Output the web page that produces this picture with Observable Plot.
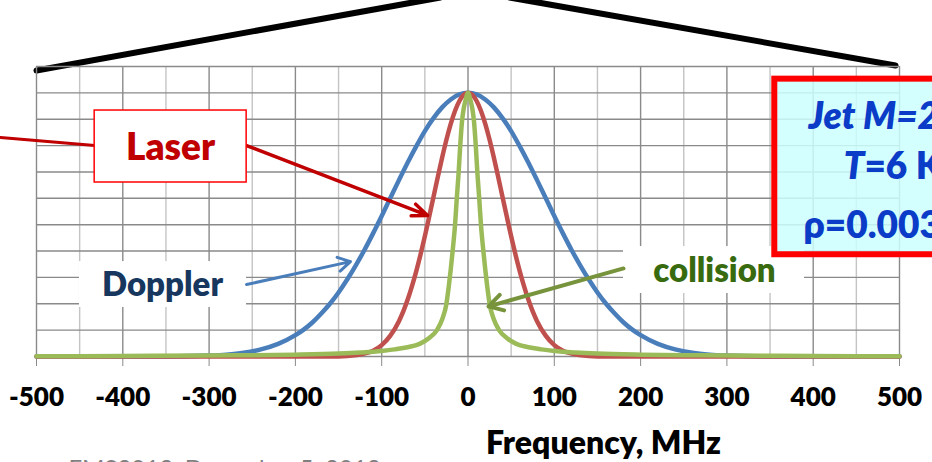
<!DOCTYPE html>
<html>
<head>
<meta charset="utf-8">
<script src="https://cdn.jsdelivr.net/npm/d3@7"></script>
<script src="https://cdn.jsdelivr.net/npm/@observablehq/plot@0.6"></script>
<style>
  html, body { margin: 0; padding: 0; background: #fff; overflow: hidden; }
  #chart { width: 932px; height: 462px; }
</style>
</head>
<body>
<div id="chart"></div>
<script>
// ---- data ----
const dopplerMHz = [-500, -400, -350, -300, -280, -260, -240, -220, -200, -190, -180, -170, -160, -150, -140, -130, -120, -110, -100, -90, -80, -70, -60, -50, -40, -30, -20, -10, 0,
                    10, 20, 30, 40, 50, 60, 70, 80, 90, 100, 110, 120, 130, 140, 150, 160, 170, 180, 190, 200, 220, 240, 260, 280, 300, 350, 400, 500];
const dopplerValue = [0, 0, 0.0002, 0.0035, 0.007, 0.014, 0.027, 0.048, 0.081, 0.103, 0.130, 0.163, 0.200, 0.243, 0.292, 0.346, 0.404, 0.467, 0.533, 0.601, 0.669, 0.735, 0.797, 0.855, 0.904, 0.945, 0.975, 0.994, 1.0,
                      0.994, 0.975, 0.945, 0.904, 0.855, 0.797, 0.735, 0.669, 0.601, 0.533, 0.467, 0.404, 0.346, 0.292, 0.243, 0.200, 0.163, 0.130, 0.103, 0.081, 0.048, 0.027, 0.014, 0.007, 0.0035, 0.0002, 0, 0];

const laserMHz = [-500, -300, -200, -160, -140, -120, -110, -100, -90, -80, -75, -70, -65, -60, -55, -50, -45, -40, -35, -30, -25, -20, -15, -10, -5, 0,
                  5, 10, 15, 20, 25, 30, 35, 40, 45, 50, 55, 60, 65, 70, 75, 80, 90, 100, 110, 120, 140, 160, 200, 300, 500];
const laserValue = [0, 0, 0, 0, 0.002, 0.011, 0.022, 0.043, 0.079, 0.134, 0.171, 0.215, 0.266, 0.323, 0.387, 0.456, 0.530, 0.605, 0.681, 0.754, 0.822, 0.882, 0.932, 0.969, 0.992, 1.0,
                    0.992, 0.969, 0.932, 0.882, 0.822, 0.754, 0.681, 0.605, 0.530, 0.456, 0.387, 0.323, 0.266, 0.215, 0.171, 0.134, 0.079, 0.043, 0.022, 0.011, 0.002, 0, 0, 0, 0];

const collisionMHz = [-500, -400, -300, -250, -200, -150, -125, -100, -85, -70, -56, -45, -36, -30, -25, -22.5, -20, -17.5, -15, -13, -11, -9, -7, -5, -3, 0,
                      3, 5, 7, 9, 11, 13, 15, 17.5, 20, 22.5, 25, 30, 36, 45, 56, 70, 85, 100, 125, 150, 200, 250, 300, 400, 500];
const collisionValue = [0.001, 0.002, 0.004, 0.005, 0.007, 0.011, 0.015, 0.021, 0.027, 0.035, 0.048, 0.07, 0.10, 0.14, 0.20, 0.26, 0.33, 0.41, 0.50, 0.60, 0.69, 0.80, 0.89, 0.94, 0.97, 1.0,
                        0.97, 0.94, 0.89, 0.80, 0.69, 0.60, 0.50, 0.41, 0.33, 0.26, 0.20, 0.14, 0.10, 0.07, 0.048, 0.035, 0.027, 0.021, 0.015, 0.011, 0.007, 0.005, 0.004, 0.002, 0.001];

const xTickValues = [-500, -400, -300, -200, -100, 0, 100, 200, 300, 400, 500];
const xMinorGrid = [-450, -350, -250, -150, -50, 50, 150, 250, 350, 450];
const yGridValues = [0, 0.1, 0.2, 0.3, 0.4, 0.5, 0.6, 0.7, 0.8, 0.9, 1.0, 1.1];

const xAxisTitle = "Frequency, MHz";
const footerText = "FMS2013, December 5, 2013";
const infoLines = ["Jet M=2", "T", "=6 K", "ρ=0.003"];

// ---- build tables ----
const doppler = dopplerMHz.map((x, i) => ({x, y: dopplerValue[i]}));
const laser = laserMHz.map((x, i) => ({x, y: laserValue[i]}));
const collision = collisionMHz.map((x, i) => ({x, y: collisionValue[i]}));

const FONT = "Lato, 'Open Sans', sans-serif";
const W = 800;
const one = [{}];

const chart = Plot.plot({
  width: 932,
  height: 462,
  marginLeft: 36,
  marginRight: 33,
  marginTop: 66,
  marginBottom: 106,
  style: {fontFamily: FONT, background: "white", overflow: "hidden"},
  x: {domain: [-500, 500]},
  y: {domain: [0, 1.1], axis: null},
  marks: [
    // zoom lines on top
    Plot.line([{x: -500, y: 1.085}, {x: -32, y: 1.362}], {x: "x", y: "y", stroke: "black", strokeWidth: 6}),
    Plot.line([{x: 48, y: 1.362}, {x: 495.4, y: 1.104}], {x: "x", y: "y", stroke: "black", strokeWidth: 6}),
    // grid
    Plot.ruleX(xMinorGrid, {stroke: "#c4c4c4", strokeWidth: 1.4}),
    Plot.ruleX(xTickValues, {stroke: "#8a8a8a", strokeWidth: 1.4}),
    Plot.ruleY(yGridValues, {stroke: "#8a8a8a", strokeWidth: 1.4}),
    Plot.axisX({
      ticks: xTickValues,
      tickSize: 10,
      tickPadding: 21,
      tickFormat: d => String(d),
      fontSize: 26,
      fontWeight: W,
      fill: "black",
      stroke: "#8a8a8a",
      label: null
    }),
    // curves
    Plot.line(doppler, {x: "x", y: "y", stroke: "#4a7ebb", strokeWidth: 4.5, curve: "monotone-x"}),
    Plot.line(laser, {x: "x", y: "y", stroke: "#c0504d", strokeWidth: 4.5, curve: "monotone-x"}),
    Plot.line(collision, {x: "x", y: "y", stroke: "#9bbb59", strokeWidth: 4.5, curve: "monotone-x"}),
    // Laser label
    Plot.line([{x: -541.7, y: 0.831}, {x: -432.6, y: 0.800}], {x: "x", y: "y", stroke: "#c00000", strokeWidth: 3}),
    Plot.arrow(one, {x1: () => -256.6, y1: () => 0.800, x2: () => -46.9, y2: () => 0.535, stroke: "#c00000", strokeWidth: 3.5, headLength: 7, headAngle: 45}),
    Plot.rect(one, {x1: () => -432.6, x2: () => -256.5, y1: () => 0.660, y2: () => 0.933, fill: "white", stroke: "#ff0000", strokeWidth: 1.5}),
    Plot.text(["Laser"], {x: () => -344.7, y: () => 0.789, text: d => d, fill: "#c00000", fontSize: 37, fontWeight: W}),
    // Doppler label
    Plot.rect(one, {x1: () => -450.2, x2: () => -256.6, y1: () => 0.186, y2: () => 0.360, fill: "white"}),
    Plot.arrow(one, {x1: () => -256.6, y1: () => 0.273, x2: () => -136.2, y2: () => 0.360, stroke: "#4a7ebb", strokeWidth: 3, headLength: 7, headAngle: 60}),
    Plot.text(["Doppler"], {x: () => -354, y: () => 0.269, text: d => d, fill: "#17375e", fontSize: 33, fontWeight: W}),
    // collision label
    Plot.rect(one, {x1: () => 180.2, x2: () => 389.9, y1: () => 0.239, y2: () => 0.417, fill: "white"}),
    Plot.arrow(one, {x1: () => 180.2, y1: () => 0.334, x2: () => 23.8, y2: () => 0.190, stroke: "#77933c", strokeWidth: 4, headLength: 6, headAngle: 60}),
    Plot.text(["collision"], {x: () => 285.6, y: () => 0.322, text: d => d, fill: "#386a10", fontSize: 33, fontWeight: W}),
    // info box
    Plot.rect(one, {x1: () => 355.5, x2: () => 560, y1: () => 0.386, y2: () => 1.052, fill: "#ccffff", fillOpacity: 0.85, stroke: "#ff0000", strokeWidth: 6}),
    Plot.text([infoLines[0]], {x: () => 394.6, y: () => 0.907, text: d => d, textAnchor: "start", fill: "#0a3cc8", fontSize: 37, fontWeight: W, fontStyle: "italic"}),
    Plot.text([infoLines[1]], {x: () => 435.0, y: () => 0.718, text: d => d, textAnchor: "start", fill: "#0a3cc8", fontSize: 37, fontWeight: W, fontStyle: "italic"}),
    Plot.text([infoLines[2]], {x: () => 459.3, y: () => 0.718, text: d => d, textAnchor: "start", fill: "#0a3cc8", fontSize: 37, fontWeight: W}),
    Plot.text([infoLines[3]], {x: () => 388.8, y: () => 0.494, text: d => d, textAnchor: "start", fill: "#0a3cc8", fontSize: 37, fontWeight: W}),
    // axis title and footer
    Plot.text([xAxisTitle], {x: () => 157, y: () => -0.2845, text: d => d, lineAnchor: "top", fill: "black", fontSize: 32, fontWeight: W}),
    Plot.text([footerText], {x: () => -462.9, y: () => -0.391, text: d => d, lineAnchor: "top", textAnchor: "start", fill: "#7f7f7f", fontSize: 24})
  ]
});
document.getElementById("chart").appendChild(chart);
</script>
</body>
</html>
